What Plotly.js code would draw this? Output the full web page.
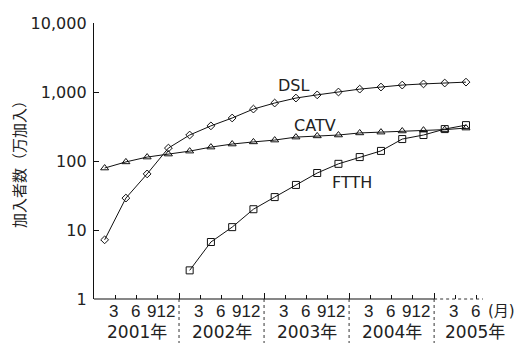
<!DOCTYPE html>
<html>
<head>
<meta charset="utf-8">
<script src="https://cdn.plot.ly/plotly-3.0.1.min.js"></script>
<style>html,body{margin:0;padding:0;background:#fff;}#chart{width:515px;height:343px;}</style>
</head>
<body>
<div id="chart"></div>
<script>
// quarter positions in months from Jan 2001 (mid-quarter)
var months = [1.5,4.5,7.5,10.5,13.5,16.5,19.5,22.5,25.5,28.5,31.5,34.5,37.5,40.5,43.5,46.5,49.5,52.5];
var dsl  = [7.2,29,65,154,238,323,420,566,692,817,909,1000,1100,1180,1260,1310,1350,1390];
var catv = [79,97,114,126,139,159,176,189,201,222,231,238,255,262,272,280,285,300];
var ftthMonths = months.slice(4);
var ftth = [2.6,6.7,11,20,30,45,67,91,114,140,208,238,290,331];

var yTickVals = [1,10,100,1000,10000];
var yTickText = ['1','10','100','1,000','10,000'];
var years = ['2001年','2002年','2003年','2004年','2005年'];
var yearCenters = [6,18,30,42,53.8];
var monthLabels = ['3','6','912'];
var boundaries = [12,24,36,48];

var lineStyle = {color:'#111', width:1};
var traces = [
  {x:months, y:dsl, mode:'lines+markers', line:lineStyle,
   marker:{symbol:'diamond-open', size:6, color:'#111', line:{width:1}}},
  {x:months, y:catv, mode:'lines+markers', line:lineStyle,
   marker:{symbol:'triangle-up-open', size:7, color:'#111', line:{width:1}}},
  {x:ftthMonths, y:ftth, mode:'lines+markers', line:lineStyle,
   marker:{symbol:'square-open', size:7, color:'#111', line:{width:1}}}
];

var numFont = {family:'DejaVu Sans', size:16, color:'#222'};
var monFont = {family:'Liberation Sans Narrow, Liberation Sans', size:17, color:'#222'};
var ann = [];
// series labels
ann.push({x:28.1, y:Math.log10(1260), text:'DSL', showarrow:false, font:{family:'DejaVu Sans', size:16, color:'#222'}});
ann.push({x:31.2, y:Math.log10(322), text:'CATV', showarrow:false, font:{family:'DejaVu Sans', size:16, color:'#222'}});
ann.push({x:36.4, y:Math.log10(48), text:'FTTH', showarrow:false, font:{family:'DejaVu Sans', size:16, color:'#222'}});
// month labels and year labels
for (var i=0;i<5;i++){
  var base = i*12;
  ann.push({x:base+2.8, y:0, yref:'paper', yanchor:'middle', yshift:-12, text:monthLabels[0], showarrow:false, font:monFont});
  ann.push({x:base+5.8, y:0, yref:'paper', yanchor:'middle', yshift:-12, text:monthLabels[1], showarrow:false, font:monFont});
  if (i<4) ann.push({x:base+11.7, y:0, yref:'paper', yanchor:'middle', yshift:-12, xanchor:'right', text:monthLabels[2], showarrow:false, font:monFont});
  ann.push({x:yearCenters[i], y:0, yref:'paper', yanchor:'middle', yshift:-33, text:years[i], showarrow:false,
            font:{family:'DejaVu Sans, Noto Sans CJK JP', size:17, color:'#222'}});
}
ann.push({xref:'paper', x:(486-94)/389, xanchor:'left', y:0, yref:'paper', yanchor:'middle', yshift:-12, text:'(月)', showarrow:false,
          font:{family:'DejaVu Sans, Noto Sans CJK JP', size:15, color:'#222'}});
ann.push({xref:'paper', yref:'paper', x:-76/389, y:0.5, text:'加入者数（万加入）', textangle:-90,
          showarrow:false, xanchor:'center', yanchor:'middle',
          font:{family:'Noto Sans CJK JP', size:15, color:'#222'}});

var shapes = [];
boundaries.forEach(function(b){
  shapes.push({type:'line', xref:'x', yref:'paper', x0:b, x1:b, y0:0, y1:-0.17,
               line:{color:'#333', width:1, dash:'dot'}});
});
shapes.push({type:'line', xref:'x', yref:'paper', x0:0, x1:48, y0:0, y1:0, line:{color:'#111', width:1.2}});
shapes.push({type:'line', xref:'x', yref:'paper', x0:48, x1:54.9, y0:0, y1:0, line:{color:'#333', width:1, dash:'dot'}});

var layout = {
  width:515, height:343,
  margin:{l:94, r:32, t:23, b:44},
  paper_bgcolor:'#fff', plot_bgcolor:'#fff',
  showlegend:false,
  xaxis:{range:[0,54.9], showgrid:false, zeroline:false, showline:false,
         tickmode:'array', tickvals:boundaries, ticks:'inside', ticklen:6, tickcolor:'#111',
         showticklabels:false,
         minor:{tickmode:'linear', tick0:0, dtick:3, ticks:'inside', ticklen:4, tickcolor:'#111', showgrid:false}},
  yaxis:{type:'log', range:[0,4], showgrid:false, zeroline:false, showline:true, linecolor:'#111', linewidth:1.2,
         tickmode:'array', tickvals:yTickVals, ticktext:yTickText, ticks:'inside', ticklen:5, tickcolor:'#111',
         ticklabelstandoff:3, tickfont:numFont},
  annotations:ann, shapes:shapes
};
Plotly.newPlot('chart', traces, layout, {staticPlot:true, displayModeBar:false});
</script>
</body>
</html>
